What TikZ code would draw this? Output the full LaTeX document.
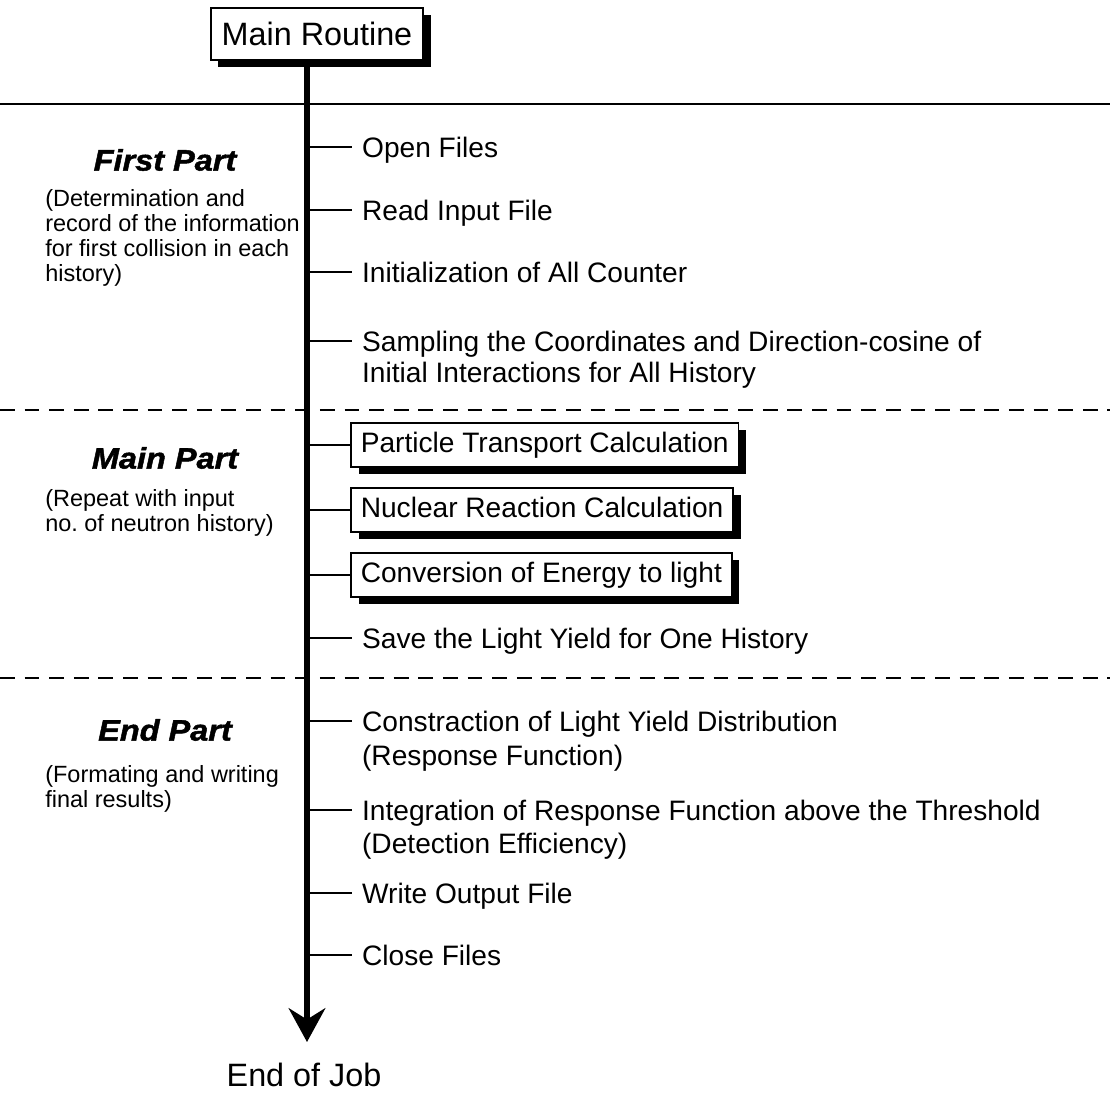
\documentclass[tikz,border=0pt]{standalone}
\usepackage{fontspec}
\setmainfont{Liberation Sans}
\newfontfamily\headfont[FakeStretch=1.1,FakeBold=1.6]{Liberation Sans}
\usetikzlibrary{arrows.meta,positioning,shadows}
\frenchspacing

\begin{document}
\begin{tikzpicture}[%
    x=0.025cm, y=-0.025cm,
    >={Stealth[length=24pt,width=26pt,inset=8pt]},
    mainbox/.style={draw, line width=1.4pt, fill=white, inner xsep=7.8pt,
      minimum height=37pt, font=\fontsize{23}{26}\selectfont,
      drop shadow={shadow xshift=5.5pt, shadow yshift=-5pt, fill=black, opacity=1}},
    box/.style={draw, line width=1.3pt, fill=white, inner xsep=7pt,
      minimum height=31pt, anchor=west, font=\fontsize{20}{22}\selectfont,
      text height=14.4pt, text depth=4.2pt,
      drop shadow={shadow xshift=5.5pt, shadow yshift=-5pt, fill=black, opacity=1}},
    item/.style={anchor=west, inner xsep=7pt, inner ysep=1pt,
      font=\fontsize{20}{22}\selectfont, text height=14.4pt, text depth=0pt},
    head/.style={font=\headfont\bfseries\itshape\fontsize{21}{24}\selectfont},
    desc/.style={anchor=north west, inner sep=0pt, align=left,
      font=\fontsize{16.7}{17.8}\selectfont},
    tick/.style={line width=1.4pt},
    axis/.style={line width=4pt, ->},
    sep/.style={line width=1.5pt},
    dashsep/.style={line width=1.6pt, dash pattern=on 10.5pt off 7pt}
  ]
    \useasboundingbox (0,0) rectangle (1110,1097);

    % separators
    \draw[sep] (0,104) -- (1110,104);
    \draw[dashsep] (0,410) -- (1110,410);
    \draw[dashsep] (0,678) -- (1110,678);

    % left column
    \node[head] (first) at (165,160) {First Part};
    \node[desc] (firstd) at (45,189) {(Determination and\\record of the information\\for first collision in each\\history)};
    \node[head] (mainp) at (165,458) {Main Part};
    \node[desc] (maind) at (45,489) {(Repeat with input\\no. of neutron history)};
    \node[head] (endp) at (165,730) {End Part};
    \node[desc] (endd) at (45,765) {(Formating and writing\\final results)};

    % main line
    \node[mainbox] (main) at (317,34) {Main Routine};
    \coordinate (axend) at (307,1042);
    \node[font=\fontsize{23}{26}\selectfont] (endjob) at (304,1075) {End of Job};

    % steps
    \node[item] (open) at (352,147) {Open Files};
    \node[item] (read) at (352,210) {Read Input File};
    \node[item] (init) at (352,272) {Initialization of All Counter};
    \node[item] (samp) at (352,341) {Sampling the Coordinates and Direction-cosine of};
    \node[item, below=5.6pt of samp.south west, anchor=north west] (samp2) {Initial Interactions for All History};

    \node[box] (part) at (350,445) {Particle Transport Calculation};
    \node[box] (nucl) at (350,510) {Nuclear Reaction Calculation};
    \node[box] (conv) at (350,575) {Conversion of Energy to light};
    \node[item] (save) at (352,638) {Save the Light Yield for One History};

    \node[item] (cons) at (352,721) {Constraction of Light Yield Distribution};
    \node[item, below=7.8pt of cons.south west, anchor=north west] (cons2) {(Response Function)};
    \node[item] (integ) at (352,810) {Integration of Response Function above the Threshold};
    \node[item, below=7.1pt of integ.south west, anchor=north west] (integ2) {(Detection Efficiency)};
    \node[item] (write) at (352,893) {Write Output File};
    \node[item] (close) at (352,955) {Close Files};

    \draw[axis] (main.south -| axend) -- (axend);
    \foreach \n in {open,read,init,samp,part,nucl,conv,save,cons,integ,write,close}
      \draw[tick] (axend |- \n.west) -- (\n.west);
  \end{tikzpicture}
\end{document}
